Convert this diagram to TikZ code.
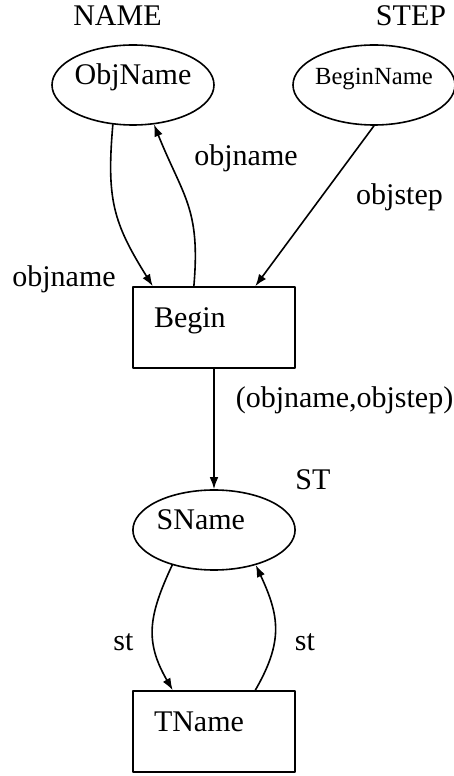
\documentclass[tikz,border=0pt]{standalone}
\usepackage{fontspec}
\setmainfont{Liberation Serif}
\usepackage{tikz}
\usetikzlibrary{arrows.meta,shapes.geometric}

\begin{document}
\begin{tikzpicture}[line cap=round,line join=round,line width=1.2pt,>={Latex[length=9pt,width=6.5pt]},x=0.75pt,y=0.75pt,
        font=\fontsize{22.5}{27}\selectfont,
        place/.style={ellipse,draw,minimum width=121.5pt,minimum height=60pt,inner xsep=-2pt,inner ysep=0pt,text height=0.8em,text depth=0.8em},
        trans/.style={rectangle,draw,minimum width=121.5pt,minimum height=60.75pt,text width=90pt,align=left,inner xsep=15.75pt,text height=0.8em,text depth=0.8em},
        lbl/.style={anchor=base,inner sep=0pt}]
        \useasboundingbox (0,0) rectangle (454,776);
        % places and transitions
        \node [place] (ObjName) at (133,691) {ObjName};
        \node [place,font=\fontsize{18.5}{22}\selectfont] (BeginName) at (374,691) {BeginName};
        \node [trans] (Begin) at (214,448.5) {Begin};
        \node [place,text width=86pt,align=left,inner xsep=0pt] (SName) at (214,246) {SName};
        \node [trans] (TName) at (214,44.5) {TName};
        % types
        \node [lbl] (nameT) at (117.5,750) {NAME};
        \node [lbl] (stepT) at (411,750) {STEP};
        \node [lbl] (stT) at (313,286) {ST};
        % arcs
        \draw [->] (ObjName.243) to[out=-95,in=122,looseness=1.15] (Begin.146);
        \draw [->] (Begin.116) to[out=85,in=-68,looseness=1.2] (ObjName.298);
        \draw [->] (BeginName.south) -- (Begin.45);
        \draw [->] (Begin.south) -- (SName.north);
        \draw [->] (SName.220) to[out=-115,in=120,looseness=1.15] (TName.135);
        \draw [->] (TName.45) to[out=60,in=-65,looseness=1.15] (SName.320);
        % arc inscriptions
        \node [lbl] (inA) at (64,489) {objname};
        \node [lbl] (outA) at (246,610) {objname};
        \node [lbl] (inB) at (399.5,571) {objstep};
        \node [lbl] (outC) at (344.5,368) {(objname,objstep)};
        \node [lbl] (inD) at (123.5,125) {st};
        \node [lbl] (outD) at (305,125) {st};
    \end{tikzpicture}
\end{document}
